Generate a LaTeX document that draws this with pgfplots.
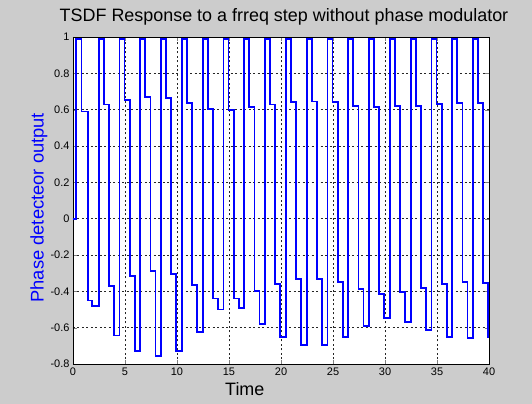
\documentclass[border=0pt]{standalone}
\usepackage{pgfplots}
\pgfplotsset{compat=1.18}
\usepackage{fontspec}
\setmainfont{Liberation Sans}
\usetikzlibrary{backgrounds,calc}
\definecolor{figgray}{RGB}{204,204,204}
\definecolor{mblue}{RGB}{0,0,255}

\begin{document}
\begin{tikzpicture}
\begin{axis}[
    scale only axis,
    width=416bp, height=327bp,
    xmin=0, xmax=40, ymin=-0.8, ymax=1,
    xtick={0,5,...,40},
    ytick={-0.8,-0.6,-0.4,-0.2,0,0.2,0.4,0.6,0.8,1},
    yticklabels={-0.8,-0.6,-0.4,-0.2,0,0.2,0.4,0.6,0.8,1},
    /pgf/number format/assume math mode=true,
    tick label style={font=\fontsize{11}{13}\selectfont},
    tick align=inside,
    major tick length=4bp,
    xtick pos=both, ytick pos=both,
    grid=major,
    major grid style={black!85, line width=0.5bp, dash pattern=on 2bp off 2.5bp},
    axis line style={black, line width=0.6bp},
    axis background/.style={fill=white},
    title={TSDF Response to a frreq step without phase modulator},
    title style={font=\fontsize{18}{20}\selectfont, yshift=2bp, xshift=3bp},
    xlabel={Time},
    xlabel style={font=\fontsize{18}{20}\selectfont, at={(axis description cs:0.413,0)}, anchor=north, yshift=-15bp},
    ylabel={Phase detecteor output},
    ylabel style={font=\fontsize{18.4}{20}\selectfont, text=mblue, at={(axis description cs:0,0.478)}, anchor=south, yshift=22bp},
]
\addplot[const plot, mblue, line width=1.8bp] coordinates {
 (0,0) (0.26,0.99) (0.82,0.59) (1.45,-0.45) (1.84,-0.48)
 (2.47,0.99) (2.95,0.628) (3.46,-0.37) (3.94,-0.643)
 (4.47,0.99) (4.95,0.654) (5.46,-0.315) (5.94,-0.73)
 (6.47,0.99) (6.95,0.669) (7.46,-0.286) (7.94,-0.758)
 (8.47,0.99) (8.95,0.665) (9.46,-0.304) (9.94,-0.73)
 (10.47,0.99) (10.95,0.637) (11.46,-0.366) (11.94,-0.624)
 (12.47,0.99) (12.95,0.604) (13.46,-0.44) (13.94,-0.50)
 (14.47,0.99) (14.95,0.60) (15.46,-0.44) (15.94,-0.49)
 (16.47,0.99) (16.95,0.613) (17.46,-0.40) (17.94,-0.58)
 (18.47,0.99) (18.95,0.628) (19.46,-0.36) (19.94,-0.65)
 (20.47,0.99) (20.95,0.641) (21.46,-0.333) (21.94,-0.694)
 (22.47,0.99) (22.95,0.645) (23.46,-0.33) (23.94,-0.694)
 (24.47,0.99) (24.95,0.643) (25.46,-0.35) (25.94,-0.65)
 (26.47,0.99) (26.95,0.622) (27.46,-0.388) (27.94,-0.59)
 (28.47,0.99) (28.95,0.613) (29.46,-0.414) (29.94,-0.547)
 (30.47,0.99) (30.95,0.619) (31.46,-0.405) (31.94,-0.571)
 (32.47,0.99) (32.95,0.622) (33.46,-0.383) (33.94,-0.615)
 (34.47,0.99) (34.95,0.632) (35.46,-0.359) (35.94,-0.65)
 (36.47,0.99) (36.95,0.637) (37.46,-0.35) (37.94,-0.657)
 (38.47,0.99) (38.95,0.635) (39.46,-0.355) (39.94,-0.65) (40,-0.65)
};
\end{axis}
\begin{pgfonlayer}{background}
\fill[figgray] ($(current axis.south west)+(-73bp,-40bp)$) rectangle ($(current axis.north east)+(43bp,37bp)$);
\end{pgfonlayer}
\end{tikzpicture}
\end{document}
